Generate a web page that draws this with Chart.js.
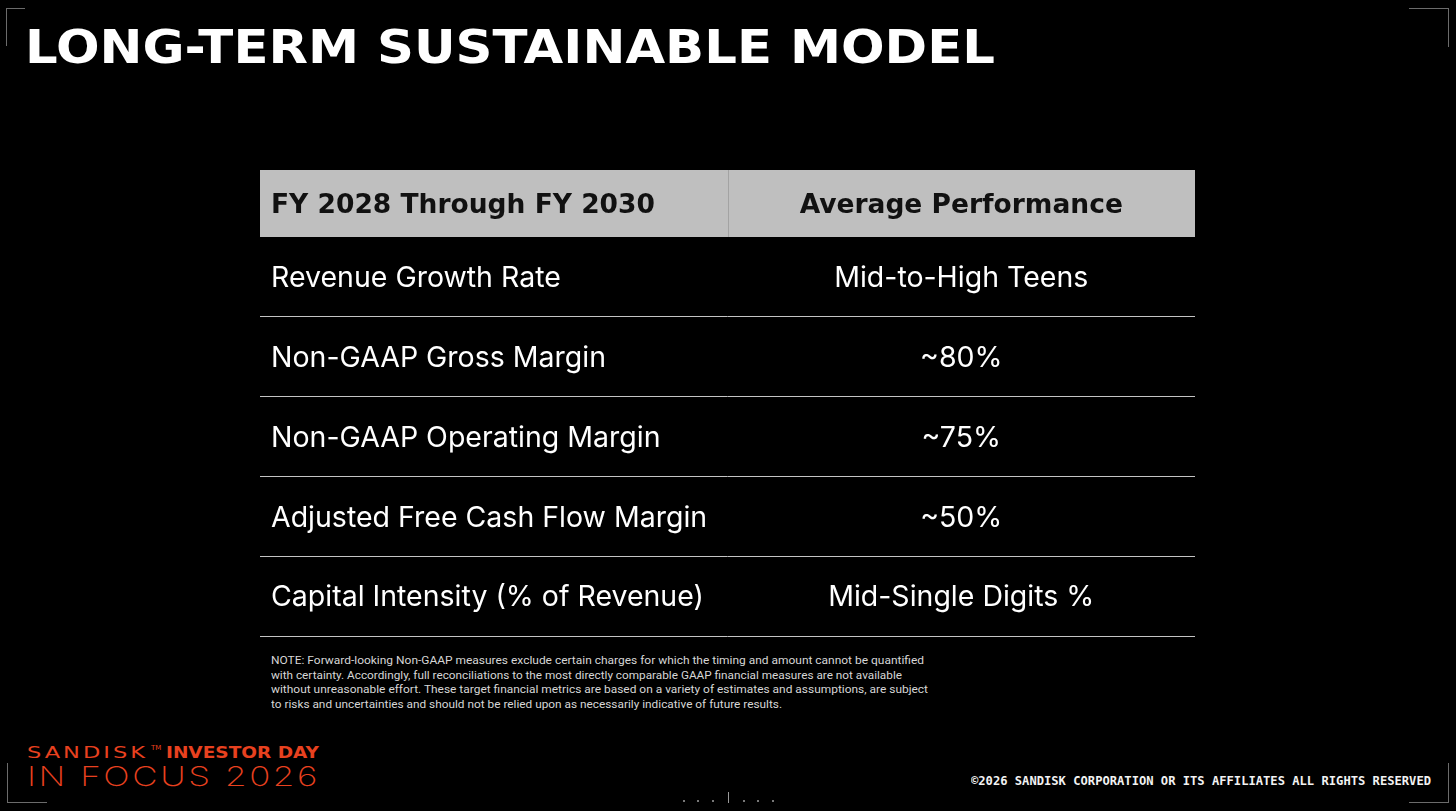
<!DOCTYPE html>
<html><head><meta charset="utf-8">
<script src="https://cdn.jsdelivr.net/npm/chart.js@4.4.1/dist/chart.umd.min.js"></script>
<style>
html,body{margin:0;padding:0;background:#000;width:1456px;height:811px;overflow:hidden;}
body{position:relative;}
.abs{position:absolute;white-space:nowrap;transform-origin:0 0;line-height:1;}
#title{left:25px;top:19px;font:bold 47px 'DejaVu Sans';color:#fff;}
.note{left:271px;font:11.5px Roboto;color:#d6d6d6;line-height:14.7px;}
#copy{left:971px;top:774px;font:bold 12px 'DejaVu Sans Mono';color:#f2f2f2;}
#sandisk{left:27px;top:744px;font:15px 'DejaVu Sans';color:#e8411f;letter-spacing:2px;}
#tm{left:151px;top:744px;font:7px 'DejaVu Sans';color:#e8411f;}
#investor{left:166px;top:744px;font:900 15px 'DejaVu Sans';color:#e8411f;}
#focus{left:27px;top:760px;font:200 27px Inter;color:#e8411f;letter-spacing:2px;}
.mark{position:absolute;background:#6b6b6b;}
#chart{position:absolute;left:0;top:0;}
</style></head>
<body>
<div class="abs" id="title">LONG-TERM SUSTAINABLE MODEL</div>
<div class="abs note" style="top:653px" data-w="653">NOTE: Forward-looking Non-GAAP measures exclude certain charges for which the timing and amount cannot be quantified</div>
<div class="abs note" style="top:667.7px" data-w="631">with certainty. Accordingly, full reconciliations to the most directly comparable GAAP financial measures are not available</div>
<div class="abs note" style="top:682.4px" data-w="657">without unreasonable effort. These target financial metrics are based on a variety of estimates and assumptions, are subject</div>
<div class="abs note" style="top:697.1px" data-w="511">to risks and uncertainties and should not be relied upon as necessarily indicative of future results.</div>
<div class="abs" id="sandisk" data-w="121">SANDISK</div>
<div class="abs" id="tm">TM</div>
<div class="abs" id="investor" data-w="153">INVESTOR DAY</div>
<div class="abs" id="focus" data-w="293">IN FOCUS 2026</div>
<div class="abs" id="copy" data-w="460">©2026 SANDISK CORPORATION OR ITS AFFILIATES ALL RIGHTS RESERVED</div>
<!-- corner marks -->
<div class="mark" style="left:6px;top:8px;width:1px;height:38px"></div>
<div class="mark" style="left:6px;top:8px;width:19px;height:1px"></div>
<div class="mark" style="left:1448px;top:8px;width:1px;height:39px"></div>
<div class="mark" style="left:1409px;top:8px;width:40px;height:1px"></div>
<div class="mark" style="left:7px;top:763px;width:1px;height:39px"></div>
<div class="mark" style="left:7px;top:802px;width:40px;height:1px"></div>
<div class="mark" style="left:1448px;top:763px;width:1px;height:39px"></div>
<div class="mark" style="left:1409px;top:802px;width:40px;height:1px"></div>
<!-- bottom center nav -->
<div class="mark" style="left:683px;top:800px;width:2px;height:2px;background:#777"></div>
<div class="mark" style="left:697px;top:800px;width:2px;height:2px;background:#777"></div>
<div class="mark" style="left:712px;top:800px;width:2px;height:2px;background:#777"></div>
<div class="mark" style="left:728px;top:792px;width:1px;height:11px;background:#999"></div>
<div class="mark" style="left:743px;top:800px;width:2px;height:2px;background:#777"></div>
<div class="mark" style="left:757px;top:800px;width:2px;height:2px;background:#777"></div>
<div class="mark" style="left:772px;top:800px;width:2px;height:2px;background:#777"></div>
<canvas id="chart" width="1456" height="811"></canvas>
<script>
// ---- data ----
const columns = ['FY 2028 Through FY 2030', 'Average Performance'];
const metrics = ['Revenue Growth Rate', 'Non-GAAP Gross Margin', 'Non-GAAP Operating Margin', 'Adjusted Free Cash Flow Margin', 'Capital Intensity (% of Revenue)'];
const targets = ['Mid-to-High Teens', '~80%', '~75%', '~50%', 'Mid-Single Digits %'];

// ---- styling constants ----
const HEADER_H = 67;
const CELL_PAD = 11;
const HEAD_FONT = 26.5;
const BODY_FONT = 28.5;

const tablePlugin = {
  id: 'tableText',
  afterDatasetsDraw(chart) {
    const ctx = chart.ctx, area = chart.chartArea, xs = chart.scales.x;
    const c0 = xs.getPixelForValue(0), c1 = xs.getPixelForValue(1);
    const divX = Math.round((c0 + c1) / 2) + 0.5;
    // header
    const top = area.top - HEADER_H;
    ctx.save();
    ctx.fillStyle = '#bfbfbf';
    ctx.fillRect(area.left, top, area.right - area.left, HEADER_H);
    ctx.strokeStyle = '#a3a3a3';
    ctx.lineWidth = 1;
    ctx.beginPath(); ctx.moveTo(divX, top); ctx.lineTo(divX, area.top); ctx.stroke();
    ctx.fillStyle = '#111';
    ctx.font = 'bold ' + HEAD_FONT + 'px "DejaVu Sans"';
    const hb = top + HEADER_H / 2 + HEAD_FONT * 0.36;
    ctx.textAlign = 'left';
    ctx.fillText(columns[0], area.left + CELL_PAD, hb);
    ctx.textAlign = 'center';
    ctx.fillText(columns[1], c1, hb);
    // body cells from the dataset elements
    ctx.fillStyle = '#ffffff';
    ctx.font = BODY_FONT + 'px Inter';
    chart.data.datasets.forEach((ds, di) => {
      const meta = chart.getDatasetMeta(di);
      meta.data.forEach((el, i) => {
        const b = el.y + BODY_FONT * 0.36;
        if (di === 0) { ctx.textAlign = 'left'; ctx.fillText(ds.texts[i], area.left + CELL_PAD, b); }
        else { ctx.textAlign = 'center'; ctx.fillText(ds.texts[i], el.x, b); }
      });
    });
    ctx.restore();
  }
};

function build() {
  new Chart(document.getElementById('chart'), {
    type: 'line',
    data: {
      labels: columns,
      datasets: [
        { label: columns[0], texts: metrics, data: metrics.map(m => ({ x: columns[0], y: m })), showLine: false, pointRadius: 0 },
        { label: columns[1], texts: targets, data: metrics.map((m, i) => ({ x: columns[1], y: m })), showLine: false, pointRadius: 0 }
      ]
    },
    options: {
      responsive: false,
      animation: false,
      devicePixelRatio: 1,
      layout: { padding: { left: 260, right: 261, top: 237, bottom: 175 } },
      plugins: { legend: { display: false }, tooltip: { enabled: false } },
      scales: {
        x: { type: 'category', labels: columns, offset: true, display: false },
        y: { type: 'category', labels: metrics, offset: true,
             grid: { offset: true, color: '#c4c4c4', lineWidth: 1, drawTicks: false },
             border: { display: false }, ticks: { display: false } }
      }
    },
    plugins: [tablePlugin]
  });
}

function fit() {
  document.querySelectorAll('[data-w]').forEach(el => {
    const w = el.getBoundingClientRect().width;
    el.style.transform = 'scaleX(' + (parseFloat(el.dataset.w) / w) + ')';
  });
  const t = document.getElementById('title');
  t.style.transform = 'scaleX(' + (970 / t.getBoundingClientRect().width) + ')';
}
(document.fonts ? document.fonts.ready : Promise.resolve()).then(() => { fit(); build(); });
</script>
</body></html>
